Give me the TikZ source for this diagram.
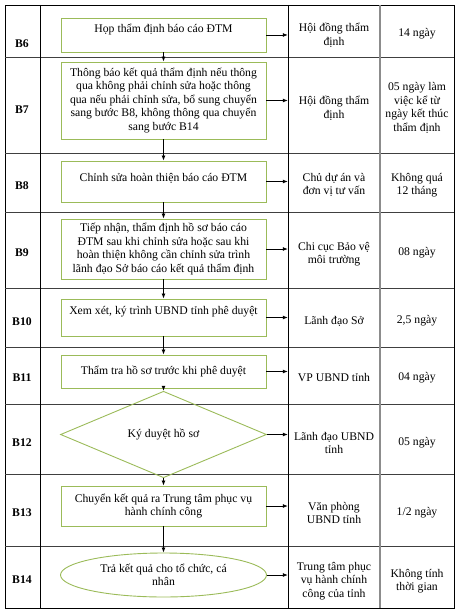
\documentclass[tikz,border=0pt]{standalone}
\usepackage{fontspec}
\setmainfont{Liberation Serif}
\usetikzlibrary{arrows.meta,shapes.geometric}

\definecolor{boxgreen}{RGB}{155,187,89}

\begin{document}
\begin{tikzpicture}[
  x=1pt, y=-1pt,
  font=\fontsize{11.7}{13.5}\selectfont,
  box/.style={draw=boxgreen, line width=0.9pt, align=center, minimum width=205pt, inner sep=2pt},
  decide/.style={diamond, draw=boxgreen, line width=0.9pt, minimum width=206pt, minimum height=59pt, inner sep=1pt},
  endbox/.style={ellipse, draw=boxgreen, line width=0.9pt, align=center, minimum width=206pt, minimum height=44pt, inner sep=1pt},
  rowlbl/.style={font=\fontsize{11.7}{13.5}\selectfont\bfseries},
  who/.style={align=center, minimum width=92pt, inner sep=0pt},
  days/.style={align=center, minimum width=74pt, inner sep=0pt},
  arrow/.style={-{Latex[length=5pt,width=4pt]}, line width=0.8pt},
  tabline/.style={line width=0.8pt}
]
\useasboundingbox (0,0) rectangle (459,615);

% table
\draw[tabline] (5,5) rectangle (454,608);
\foreach \y in {57,153,212,288,347,404,474,546}
  \draw[tabline, draw=black!75] (5,\y) -- (454,\y);
\draw[tabline] (40,5) -- (40,608);
\draw[tabline] (288,5) -- (288,608);
\draw[tabline, draw=black!45, line width=1.2pt] (380,5) -- (380,608);

% step names
\node[rowlbl] (s6)  at (22,44)  {B6};
\node[rowlbl] (s7)  at (22,110) {B7};
\node[rowlbl] (s8)  at (22,186) {B8};
\node[rowlbl] (s9)  at (22,253) {B9};
\node[rowlbl] (s10) at (22,322) {B10};
\node[rowlbl] (s11) at (22,378) {B11};
\node[rowlbl] (s12) at (22,443) {B12};
\node[rowlbl] (s13) at (22,513) {B13};
\node[rowlbl] (s14) at (22,580) {B14};

% flow
\node[box, minimum height=34pt, text height=10pt, text depth=14pt] (b6) at (163.5,35) {Họp thẩm định báo cáo ĐTM};
\node[box, minimum height=77pt] (b7) at (163.5,100.5)
  {Thông báo kết quả thẩm định nếu thông\\qua không phải chỉnh sửa hoặc thông\\qua nếu phải chỉnh sửa, bổ sung chuyển\\sang bước B8, không thông qua chuyển\\sang bước B14};
\node[box, minimum height=41pt, text height=10pt, text depth=11pt] (b8) at (163.5,181.5) {Chỉnh sửa hoàn thiện báo cáo ĐTM};
\node[box, minimum height=60pt] (b9) at (163.5,249)
  {Tiếp nhận, thẩm định hồ sơ báo cáo\\ĐTM sau khi chỉnh sửa hoặc sau khi\\hoàn thiện không cần chỉnh sửa trình\\lãnh đạo Sở báo cáo kết quả thẩm định};
\node[box, minimum height=37pt, text height=10pt, text depth=17pt] (b10) at (163.5,317.5) {Xem xét, ký trình UBND tỉnh phê duyệt};
\node[box, minimum height=33pt] (b11) at (163.5,371.5) {Thẩm tra hồ sơ trước khi phê duyệt};
\node[decide] (b12) at (163.5,434.5) {Ký duyệt hồ sơ};
\node[box, minimum height=40pt] (b13) at (163.5,506) {Chuyển kết quả ra Trung tâm phục vụ\\hành chính công};
\node[endbox] (b14) at (163.5,575) {Trả kết quả cho tổ chức, cá\\nhân};

% who
\node[who] (w6)  at (334,35)  {Hội đồng thẩm\\định};
\node[who] (w7)  at (334,108) {Hội đồng thẩm\\định};
\node[who] (w8)  at (334,185) {Chủ dự án và\\đơn vị tư vấn};
\node[who] (w9)  at (334,254) {Chi cục Bảo vệ\\môi trường};
\node[who] (w10) at (334,321) {Lãnh đạo Sở};
\node[who] (w11) at (334,378) {VP UBND tỉnh};
\node[who] (w12) at (334,443) {Lãnh đạo UBND\\tỉnh};
\node[who] (w13) at (334,513) {Văn phòng\\UBND tỉnh};
\node[who] (w14) at (334,581) {Trung tâm phục\\vụ hành chính\\công của tỉnh};

% time
\node[days] (d6)  at (417,34)  {14 ngày};
\node[days] (d7)  at (417,108) {05 ngày làm\\việc kể từ\\ngày kết thúc\\thẩm định};
\node[days] (d8)  at (417,185) {Không quá\\12 tháng};
\node[days] (d9)  at (417,253) {08 ngày};
\node[days] (d10) at (417,321) {2,5 ngày};
\node[days] (d11) at (417,378) {04 ngày};
\node[days] (d12) at (417,443) {05 ngày};
\node[days] (d13) at (417,513) {1/2 ngày};
\node[days] (d14) at (417,581) {Không tính\\thời gian};

% arrows
\foreach \a/\b in {b6/b7,b7/b8,b8/b9,b9/b10,b10/b11,b11/b12,b12/b13,b13/b14}
  \draw[arrow] (\a.south) -- (\b.north);
\foreach \n in {6,...,14}
  \draw[arrow] (b\n.east) -- (b\n.east -| w\n.west);

\end{tikzpicture}
\end{document}
